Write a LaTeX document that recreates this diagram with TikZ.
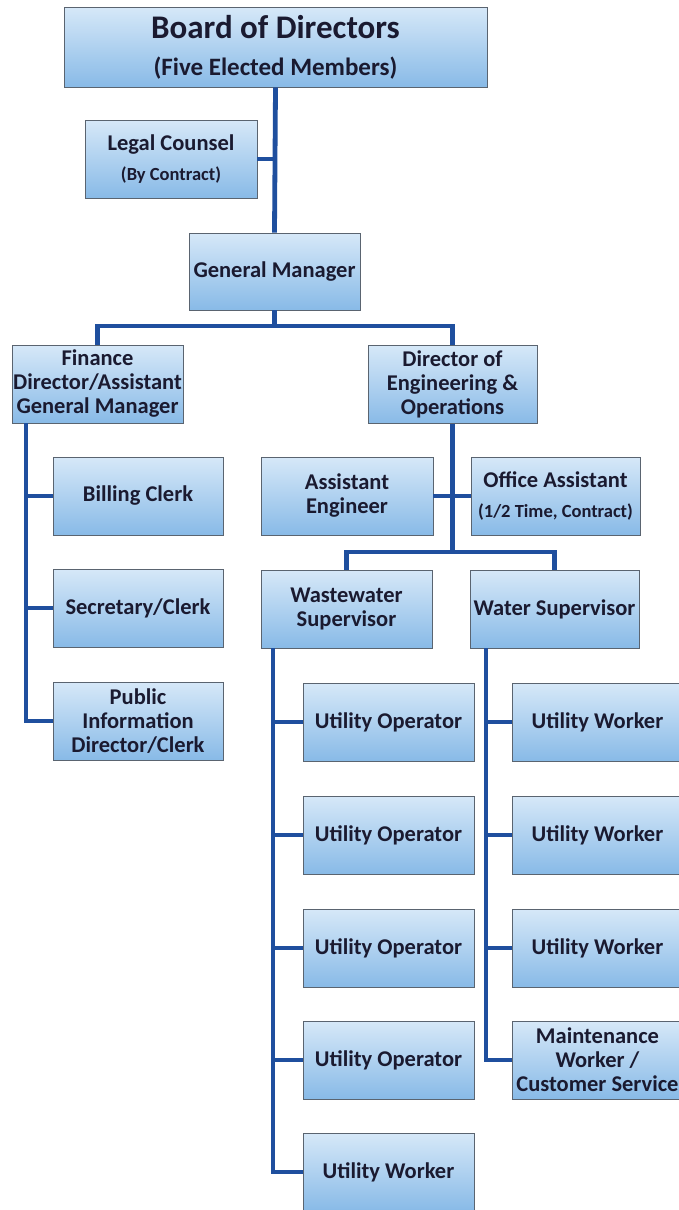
\documentclass[tikz,border=0pt]{standalone}
\usepackage{fontspec}
\setmainfont{Carlito}
\definecolor{linec}{HTML}{1F4F9E}
\definecolor{txtc}{HTML}{1A1A30}
\definecolor{boxtop}{HTML}{D6E8F8}
\definecolor{boxbot}{HTML}{88BAE7}
\definecolor{boxline}{HTML}{5A6470}
\tikzset{
  orgbox/.style={rectangle, draw=boxline, line width=0.8pt, top color=boxtop, bottom color=boxbot,
    minimum width=171pt, minimum height=78pt, inner sep=0pt, align=center, text=txtc,
    font=\bfseries\fontsize{22.5}{24}\selectfont},
  smalltxt/.style={},
  conn/.style={draw=linec, line width=4.8pt}
}
\newcommand{\smalltext}[1]{{\fontsize{18.5}{20}\selectfont #1}}
\begin{document}
\begin{tikzpicture}[x=1pt,y=-1pt]
\useasboundingbox (0,0) rectangle (679,1210);
% boxes
\node[orgbox, minimum width=423pt, minimum height=80pt] (board) at (275.5,47)
  {{\fontsize{33}{36}\selectfont Board of Directors}\\[13pt]{\fontsize{25}{28}\selectfont (Five Elected Members)}};
\node[orgbox, minimum width=172pt] (legal) at (171,159)
  {Legal Counsel\\[6pt]\smalltext{(By Contract)}};
\node[orgbox, minimum height=77pt] (gm) at (274.5,271.5) {General Manager};
\node[orgbox] (fin) at (97.5,384) {Finance\\Director/Assistant\\General Manager};
\node[orgbox, minimum width=169pt] (deo) at (452.5,384.5) {Director of\\Engineering \&\\Operations};
\node[orgbox, minimum width=170pt] (billing) at (138,496) {Billing Clerk};
\node[orgbox, minimum width=170pt] (secr) at (138,608) {Secretary/Clerk};
\node[orgbox, minimum width=170pt] (public) at (138,721) {Public\\Information\\Director/Clerk};
\node[orgbox, minimum width=172pt] (asseng) at (347,496) {Assistant\\Engineer};
\node[orgbox, minimum width=169pt] (office) at (555.5,496)
  {Office Assistant\\[6pt]\smalltext{(1/2 Time, Contract)}};
\node[orgbox] (ww) at (346.5,609) {Wastewater\\Supervisor};
\node[orgbox, minimum width=169pt] (water) at (554.5,609) {Water Supervisor};
\node[orgbox] (uo1) at (388.5,722) {Utility Operator};
\node[orgbox] (uo2) at (388.5,835) {Utility Operator};
\node[orgbox] (uo3) at (388.5,948) {Utility Operator};
\node[orgbox] (uo4) at (388.5,1060) {Utility Operator};
\node[orgbox] (uw5) at (388.5,1172) {Utility Worker};
\node[orgbox] (rw1) at (597.5,722) {Utility Worker};
\node[orgbox] (rw2) at (597.5,835) {Utility Worker};
\node[orgbox] (rw3) at (597.5,948) {Utility Worker};
\node[orgbox] (mw) at (597.5,1060) {Maintenance\\Worker /\\Customer Service};
% helper coordinates
\coordinate (bar1) at (0,326);
\coordinate (bar2) at (0,552);
\coordinate (fx) at (26,0);
\coordinate (wx) at (273,0);
\coordinate (rx) at (486,0);
% connectors
\draw[conn] (board.south) -- (gm.north);
\draw[conn] (legal.east) -- (legal.east -| board.south);
\draw[conn] (gm.south) -- (gm.south |- bar1);
\draw[conn] (fin.north) -- (fin.north |- bar1) -- (deo.north |- bar1) -- (deo.north);
\draw[conn] (fin.south -| fx) |- (public.west);
\draw[conn] (billing.west) -- (billing.west -| fx);
\draw[conn] (secr.west) -- (secr.west -| fx);
\draw[conn] (deo.south) -- (deo.south |- bar2);
\draw[conn] (asseng.east) -- (office.west);
\draw[conn] (ww.north) -- (ww.north |- bar2) -- (water.north |- bar2) -- (water.north);
\draw[conn] (ww.south -| wx) |- (uw5.west);
\draw[conn] (uo1.west) -- (uo1.west -| wx);
\draw[conn] (uo2.west) -- (uo2.west -| wx);
\draw[conn] (uo3.west) -- (uo3.west -| wx);
\draw[conn] (uo4.west) -- (uo4.west -| wx);
\draw[conn] (water.south -| rx) |- (mw.west);
\draw[conn] (rw1.west) -- (rw1.west -| rx);
\draw[conn] (rw2.west) -- (rw2.west -| rx);
\draw[conn] (rw3.west) -- (rw3.west -| rx);
\end{tikzpicture}
\end{document}
